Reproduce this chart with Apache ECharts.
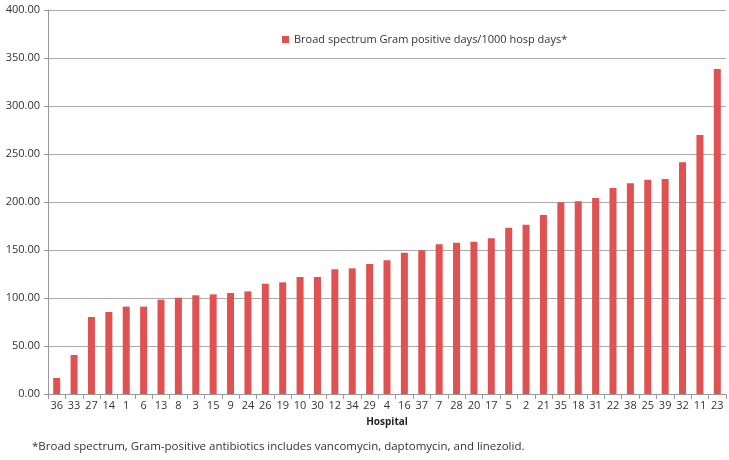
<!DOCTYPE html>
<html>
<head>
<meta charset="utf-8">
<script src="https://cdn.jsdelivr.net/npm/echarts@6/dist/echarts.min.js"></script>
<style>
  html, body { margin: 0; padding: 0; background: #fff; }
  #chart { width: 729px; height: 460px; }
</style>
</head>
<body>
<div id="chart"></div>
<script>
    // hospitals, sorted by rate
    const hospitals = ['36', '33', '27', '14', '1', '6', '13', '8', '3', '15', '9', '24', '26', '19', '10', '30', '12', '34', '29',
        '4', '16', '37', '7', '28', '20', '17', '5', '2', '21', '35', '18', '31', '22', '38', '25', '39', '32', '11', '23']
    const rates = [16.7, 40.6, 80.2, 85.4, 91.0, 91.0, 98.3, 100.3, 102.8, 103.8, 105.2, 106.9, 114.9, 116.3, 121.9, 121.9, 129.9, 130.9, 135.4,
        139.2, 147.2, 149.7, 155.9, 157.6, 158.7, 162.2, 173.3, 176.4, 186.5, 199.7, 200.7, 204.2, 214.6, 219.5, 223.3, 224.0, 241.4, 269.8, 338.5]
    const seriesName = 'Broad spectrum Gram positive days/1000 hosp days*'
    const footnote = '*Broad spectrum, Gram-positive antibiotics includes vancomycin, daptomycin, and linezolid.'

    const font = 'Open Sans, DejaVu Sans, sans-serif'
    const chart = echarts.init(document.getElementById('chart'))

    const option = {
        animation: false,
        textStyle: {fontFamily: font},
        legend: {
            left: 277, top: 29,
            itemWidth: 7, itemHeight: 7, itemGap: 6,
            icon: 'rect',
            textStyle: {fontSize: 11, color: '#333', fontFamily: font},
            data: [seriesName]
        },
        grid: {left: 48, right: 3, top: 10, bottom: 66},
        xAxis: {
            type: 'category',
            data: hospitals,
            name: 'Hospital',
            nameLocation: 'middle',
            nameGap: 23,
            nameTextStyle: {fontWeight: 'bold', fontSize: 10, color: '#222', fontFamily: font},
            axisLine: {lineStyle: {color: '#999'}},
            axisTick: {show: true, alignWithLabel: false, length: 5, lineStyle: {color: '#999'}},
            axisLabel: {interval: 0, fontSize: 11, color: '#333', margin: 6}
        },
        yAxis: {
            type: 'value',
            min: 0, max: 400, interval: 50,
            axisLine: {show: true, lineStyle: {color: '#999'}},
            axisTick: {show: true, length: 4, lineStyle: {color: '#999'}},
            axisLabel: {fontSize: 11, color: '#333', margin: 8, formatter: v => v.toFixed(2)},
            splitLine: {lineStyle: {color: '#aaa'}}
        },
        graphic: [{
            type: 'text', left: 32, top: 441,
            style: {text: footnote, fontSize: 11.5, fill: '#333', fontFamily: font}
        }],
        series: [{
            name: seriesName,
            type: 'bar',
            barWidth: 7,
            itemStyle: {color: '#e05252'},
            data: rates
        }]
    }
    chart.setOption(option)
</script>
</body>
</html>
